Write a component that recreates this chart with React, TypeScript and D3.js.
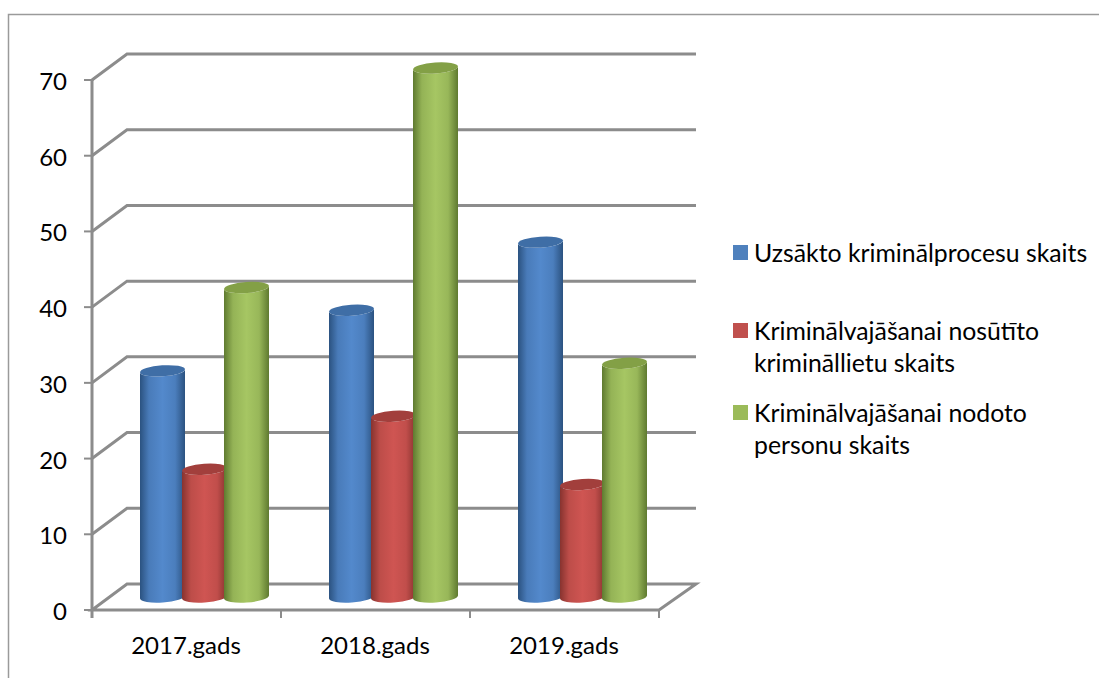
import React from 'react';
import * as d3 from 'd3';

const categories = ['2017.gads', '2018.gads', '2019.gads'];
const seriesNames = ['Uzsākto kriminālprocesu skaits', 'Kriminālvajāšanai nosūtīto krimināllietu skaits', 'Kriminālvajāšanai nodoto personu skaits'];
const processValues = [30, 38, 47];
const caseValues = [17, 24, 15];
const personValues = [41, 70, 31];
const yTicks = [0, 10, 20, 30, 40, 50, 60, 70];
const legendLines = [['Uzsākto kriminālprocesu skaits'], ['Kriminālvajāšanai nosūtīto', 'krimināllietu skaits'], ['Kriminālvajāšanai nodoto', 'personu skaits']];

const seriesValues = [processValues, caseValues, personValues];
const swatch = ['#4f81bd', '#c0504d', '#9bbb59'];
const edge = ['#2b5280', '#87332f', '#5f7a30'];
const mid = ['#5389cc', '#cf5552', '#a6c663'];
const top = ['#3f6ea6', '#a23f3c', '#83a046'];
const gray = '#8c8c8c';
const font = 'Lato, "Open Sans", sans-serif';

const depthX = 35;
const depthY = 26;
const x = d3.scaleBand().domain(categories).range([92, 659]);
const y = d3.scaleLinear().domain([0, 70]).range([610, 80]);
const inner = d3.scaleBand().domain(['0', '1', '2']).range([x.bandwidth() / 2 - 62.5 + depthX / 2, x.bandwidth() / 2 + 63.5 + depthX / 2]);
const legendY = [262, 340, 422];
const rx = 22.5;
const ry = 5.5;
const tilt = -4;
const dy = rx * Math.sin((-tilt * Math.PI) / 180);

function cylinder(cx: number, yTop: number, yBottom: number) {
  return `M${cx - rx},${yTop + dy} A${rx},${ry} ${tilt} 0 0 ${cx + rx},${yTop - dy} L${cx + rx},${yBottom - dy} A${rx},${ry} ${tilt} 0 1 ${cx - rx},${yBottom + dy} Z`;
}

export default function App() {
  const xEdges = [0, 1, 2, 3].map((i) => 92 + i * x.step());
  return (
    <svg width={1099} height={678} style={{ position: 'absolute', left: 0, top: 0 }} fontFamily={font}>
      <defs>
        {seriesNames.map((name, i) => (
          <linearGradient id={`cyl${i}`} key={name} x1="0" x2="1" y1="0" y2="0">
            <stop offset="0" stopColor={edge[i]} />
            <stop offset="0.2" stopColor={d3.interpolateRgb(edge[i], mid[i])(0.75)} />
            <stop offset="0.5" stopColor={mid[i]} />
            <stop offset="0.78" stopColor={d3.interpolateRgb(edge[i], mid[i])(0.8)} />
            <stop offset="1" stopColor={edge[i]} />
          </linearGradient>
        ))}
      </defs>
      <path d="M8.5,678 V14.5 H1099" fill="none" stroke="#9a9a9a" strokeWidth={1.5} />

      {yTicks.map((t) => (
        <g key={t}>
          {t > 0 && (
            <path
              d={`M92,${y(t)} L${92 + depthX},${y(t) - depthY} H696`}
              fill="none"
              stroke={gray}
              strokeWidth={3}
            />
          )}
          <line x1={84} x2={92} y1={y(t)} y2={y(t)} stroke={gray} strokeWidth={2} />
          <text x={67} y={y(t) + 10} textAnchor="end" fontSize={24} fill="#000">{t}</text>
        </g>
      ))}
      <path d={`M92,${y(0)} L${92 + depthX},${y(0) - depthY} H696 L659,${y(0)} Z`} fill="none" stroke={gray} strokeWidth={3} />
      <line x1={92} x2={92} y1={y(70)} y2={618} stroke={gray} strokeWidth={3} />
      {xEdges.map((e) => (
        <line key={e} x1={e} x2={e} y1={610} y2={618} stroke={gray} strokeWidth={2} />
      ))}
      {categories.map((c) => (
        <text key={c} x={(x(c) as number) + x.bandwidth() / 2 - 0.5} y={654} textAnchor="middle" fontSize={24} fill="#000">{c}</text>
      ))}

      {categories.map((c, ci) => (
        <g key={c}>
          {seriesValues.map((vals, si) => {
            const cx = (x(c) as number) + (inner(String(si)) as number) + inner.bandwidth() / 2;
            const yTop = y(vals[ci]) - depthY / 2 + 1;
            const yBottom = y(0) - depthY / 2;
            return (
              <g key={si}>
                <path d={cylinder(cx, yTop, yBottom)} fill={`url(#cyl${si})`} />
                <ellipse cx={cx} cy={yTop} rx={rx} ry={ry} fill={top[si]} transform={`rotate(${tilt} ${cx} ${yTop})`} />
              </g>
            );
          })}
        </g>
      ))}

      {legendLines.map((lines, i) => (
        <g key={i}>
          <rect x={733} y={legendY[i] - 17} width={15} height={15} fill={swatch[i]} />
          {lines.map((line, j) => (
            <text key={line} x={754} y={legendY[i] + j * 32} fontSize={24.8} fill="#000">{line}</text>
          ))}
        </g>
      ))}
    </svg>
  );
}
